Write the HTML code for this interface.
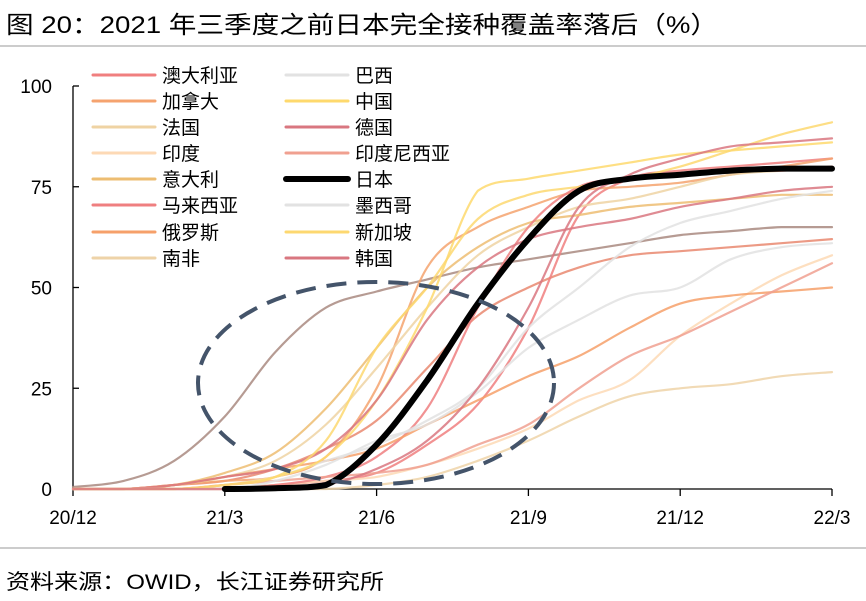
<!DOCTYPE html>
<html><head><meta charset="utf-8">
<style>
body{margin:0;background:#fff;font-family:"Liberation Sans","Noto Sans CJK SC",sans-serif;}
svg text{font-family:"Liberation Sans","Noto Sans CJK SC",sans-serif;}
</style></head>
<body>
<svg id="chart" width="866" height="596" viewBox="0 0 866 596" xmlns="http://www.w3.org/2000/svg">
<text x="6" y="33" font-size="24" textLength="712" lengthAdjust="spacingAndGlyphs" fill="#000">图  20：2021 年三季度之前日本完全接种覆盖率落后（%）</text>
<line x1="0" y1="46" x2="866" y2="46" stroke="#999" stroke-width="1"/>
<line x1="0" y1="548" x2="866" y2="548" stroke="#999" stroke-width="1"/>
<text x="6" y="589" font-size="21" textLength="378" lengthAdjust="spacingAndGlyphs" fill="#000">资料来源：OWID，长江证券研究所</text>
<g id="axes"></g>
<g id="series"></g>
<ellipse cx="376" cy="383" rx="178" ry="101" fill="none" stroke="#44546a" stroke-width="4" stroke-dasharray="20 11"/>
<g id="legend"></g>
</svg>
<script>
const xTickLabels = ["20/12","21/3","21/6","21/9","21/12","22/3"];
const yTicks = [0,25,50,75,100];
const months = [0,1,2,3,4,5,6,7,8,9,10,11,12,13,14,15];
const chile = [0.5,2,7,18,34,45,49,52,55,57,59,61,63,64,65,65];
const other = [0,0,1,2,5,10,17,30,43,50,55,58,59,60,61,62];
const australia = [0,0,0,0,1,2,4,11,21,40,68,77,79,80,81,82];
const canada = [0,0,1,2,3,8,25,55,65,70,74,75,76,78,80,82];
const france = [0,0,1,3,7,16,30,45,58,65,70,72,75,78,79,80];
const india = [0,0,0,0,1,2,3,6,10,15,22,27,38,46,53,58];
const italy = [0,0,1,4,9,20,35,50,60,66,68,70,71,72,73,73];
const malaysia = [0,0,0,0,1,3,8,20,45,65,75,77,78,79,79,80];
const russia = [0,0,1,3,5,7,10,16,22,28,33,40,46,48,49,50];
const southAfrica = [0,0,0,0,0,0,1,3,7,12,18,23,25,26,28,29];
const brazil = [0,0,0,1,3,7,11,17,25,40,50,60,66,69,72,74];
const china = [0,0,0,1,3,8,22,45,74,77,79,81,83,84,85,86];
const germany = [0,0,1,3,5,10,22,42,55,62,65,67,70,72,74,75];
const indonesia = [0,0,0,1,2,3,4,6,11,16,25,33,38,44,50,56];
const japan = [null,null,null,0,0.2,1,11,27,46,62,74,77,78,79,79.5,79.5];
const mexico = [0,0,0,0,2,6,12,16,24,35,42,48,50,57,60,61];
const singapore = [0,0,0,1,3,12,35,50,67,73,75,77,80,84,88,91];
const korea = [0,0,0,0,0,1,5,12,25,45,70,78,82,85,86,87];

const seriesList = [
 {n:"智利",d:chile,c:"#a98a80"},
 {n:"其他",d:other,c:"#e98870"},
 {n:"澳大利亚",d:australia,c:"#f07f7f"},
 {n:"加拿大",d:canada,c:"#f5a36f"},
 {n:"法国",d:france,c:"#efd3a3"},
 {n:"印度",d:india,c:"#fdd9b5"},
 {n:"意大利",d:italy,c:"#edbd72"},
 {n:"马来西亚",d:malaysia,c:"#ef7f80"},
 {n:"俄罗斯",d:russia,c:"#f6a06a"},
 {n:"南非",d:southAfrica,c:"#eed3a8"},
 {n:"巴西",d:brazil,c:"#e2e2e2"},
 {n:"中国",d:china,c:"#fed96d"},
 {n:"德国",d:germany,c:"#d97780"},
 {n:"印度尼西亚",d:indonesia,c:"#f0a090"},
 {n:"墨西哥",d:mexico,c:"#e2e2e2"},
 {n:"新加坡",d:singapore,c:"#fdd870"},
 {n:"韩国",d:korea,c:"#d97780"},
 {n:"日本",d:japan,c:"#000",w:6}
];
const legendOrder = ["澳大利亚","加拿大","法国","印度","意大利","马来西亚","俄罗斯","南非","巴西","中国","德国","印度尼西亚","日本","墨西哥","新加坡","韩国"];

const NS="http://www.w3.org/2000/svg";
const x0=73,pxm=50.6,y0=489,pyu=4.03;
function xs(m){return x0+m*pxm;}
function ys(v){return y0-v*pyu;}
function mk(t,a,p){const e=document.createElementNS(NS,t);for(const k in a)e.setAttribute(k,a[k]);p.appendChild(e);return e;}
function smoothPath(P){
 let d='M'+P[0][0].toFixed(1)+','+P[0][1].toFixed(1);
 for(let i=0;i<P.length-1;i++){
  const p0=P[Math.max(i-1,0)],p1=P[i],p2=P[i+1],p3=P[Math.min(i+2,P.length-1)];
  let c1y=p1[1]+(p2[1]-p0[1])/6, c2y=p2[1]-(p3[1]-p1[1])/6;
  const lo=Math.min(p1[1],p2[1]),hi=Math.max(p1[1],p2[1]);
  c1y=Math.min(hi,Math.max(lo,c1y));c2y=Math.min(hi,Math.max(lo,c2y));
  d+=' C'+(p1[0]+(p2[0]-p0[0])/6).toFixed(1)+','+c1y.toFixed(1)+' '+(p2[0]-(p3[0]-p1[0])/6).toFixed(1)+','+c2y.toFixed(1)+' '+p2[0].toFixed(1)+','+p2[1].toFixed(1);
 }
 return d;
}

const ax=document.getElementById('axes');
const yl=mk('line',{x1:x0,y1:ys(0),x2:x0,y2:ys(100),stroke:'#000','stroke-width':1.3},ax);


const xl=mk('line',{x1:x0,y1:ys(0),x2:xs(15),y2:ys(0),stroke:'#000','stroke-width':1.3},ax);


yTicks.forEach(v=>{
 mk('line',{x1:x0,y1:ys(v),x2:x0+6,y2:ys(v),stroke:'#000','stroke-width':1.3},ax);
 const t=mk('text',{x:52,y:ys(v)+7,'font-size':19,'text-anchor':'end'},ax);
 t.textContent=v;
 
 
});
xTickLabels.forEach((s,i)=>{
 const m=i*3;
 mk('line',{x1:xs(m),y1:ys(0),x2:xs(m),y2:ys(0)+7,stroke:'#000','stroke-width':1.3},ax);
 const t=mk('text',{x:xs(m),y:524,'font-size':19,'text-anchor':'middle'},ax);
 t.textContent=s;
 
 
});

const sg=document.getElementById('series');
seriesList.forEach(s=>{
 const P=[];
 s.d.forEach((v,i)=>{ if(v!==null) P.push([xs(months[i]),ys(v)]); });
 const p=mk('path',{d:smoothPath(P),fill:'none',stroke:s.c,'stroke-width':s.w||2.2,'stroke-opacity':s.w?1:0.85,'stroke-linejoin':'round','stroke-linecap':'round'},sg);
 
 
});

const lg=document.getElementById('legend');
const rowsY=[75,101,127,153,179,205,232,258];
legendOrder.forEach((n,i)=>{
 const s=seriesList.find(q=>q.n===n);
 const col=Math.floor(i/8),row=i%8;
 const lx=col?286:93, y=rowsY[row];
 const l=mk('line',{x1:lx,y1:y,x2:lx+62,y2:y,stroke:s.c,'stroke-width':s.w||3,'stroke-linecap':'round'},lg);
 
 
 const t=mk('text',{x:lx+69,y:y+7,'font-size':19},lg);
 t.textContent=n;
 
 
});
</script>
</body></html>
